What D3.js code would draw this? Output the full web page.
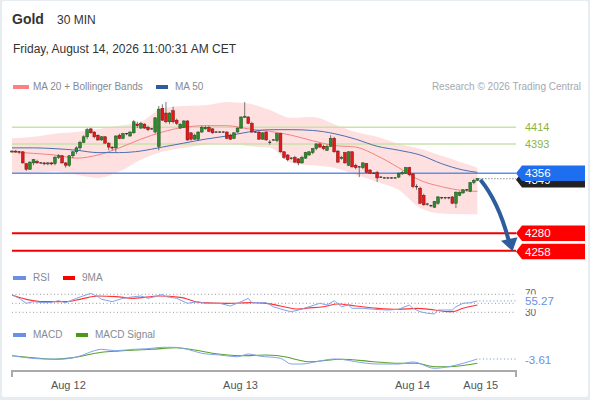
<!DOCTYPE html>
<html>
<head>
<meta charset="utf-8">
<script src="https://d3js.org/d3.v7.min.js"></script>
<style>
  body { margin: 0; background: #e6ecf0; }
  svg { display: block; font-family: "Liberation Sans", Arial, sans-serif; }
</style>
</head>
<body>
<svg id="chart" width="590" height="400"></svg>
<script>
// Gold, 30 min candles, oldest first
var open  = [4383,4384,4383,4383,4368,4361,4369,4371,4369,4369,4368,4369,4368,4376,4378,4369,4366,4378,4383,4388,
             4395,4402,4412,4408,4404,4398,4402,4394,4389,4388,4404,4400,4406,4403,4407,4418,4413,4418,4414,4412,
             4408,4390,4438,4432,4421,4435,4423,4413,4414,4422,4407,4399,4399,4408,4412,4414,4412,4408,4408,4408,
             4408,4404,4400,4408,4413,4427,4427,4419,4408,4408,4399,4408,4395,4398,4397,4406,4383,4379,4375,4376,
             4374,4369,4375,4379,4382,4387,4393,4390,4385,4390,4400,4384,4375,4382,4366,4383,4366,4364,4363,4368,
             4360,4356,4357,4351,4350,4350,4350,4350,4351,4355,4356,4363,4355,4339,4337,4328,4317,4315,4313,4318,
             4325,4325,4325,4326,4318,4328,4331,4335,4333,4344,4347];
var high  = [4385,4385,4384,4384,4369,4371,4374,4373,4370,4370,4370,4370,4378,4380,4379,4370,4379,4384,4390,4397,
             4404,4413,4413,4409,4405,4403,4403,4395,4390,4404,4406,4407,4407,4409,4423,4421,4421,4419,4416,4413,
             4427,4441,4443,4446,4433,4440,4425,4419,4423,4423,4408,4406,4409,4416,4416,4416,4413,4409,4409,4409,
             4409,4406,4408,4414,4428,4446,4428,4421,4409,4409,4408,4409,4398,4399,4407,4407,4384,4380,4376,4378,
             4375,4378,4383,4384,4388,4394,4394,4392,4392,4404,4402,4385,4378,4383,4384,4384,4368,4365,4370,4369,
             4361,4357,4359,4352,4351,4351,4351,4351,4357,4359,4364,4364,4356,4342,4339,4330,4318,4316,4321,4327,
             4326,4326,4326,4327,4333,4333,4336,4336,4345,4349,4350];
var low   = [4382,4382,4380,4368,4359,4360,4366,4368,4368,4366,4366,4366,4366,4374,4368,4363,4364,4375,4380,4385,
             4394,4399,4406,4400,4397,4397,4393,4385,4385,4383,4399,4399,4404,4402,4406,4413,4412,4412,4409,4411,
             4406,4385,4422,4419,4418,4419,4417,4412,4413,4397,4397,4398,4397,4407,4411,4408,4406,4407,4407,4407,
             4399,4398,4399,4407,4412,4426,4418,4407,4407,4398,4398,4397,4392,4397,4395,4382,4374,4371,4373,4369,
             4366,4368,4374,4378,4380,4385,4388,4385,4384,4389,4382,4369,4373,4368,4365,4363,4361,4351,4361,4356,
             4355,4355,4345,4350,4349,4349,4349,4349,4350,4354,4355,4352,4337,4335,4317,4315,4315,4313,4312,4316,
             4323,4323,4323,4317,4312,4327,4330,4333,4332,4342,4346];
var close = [4384,4383,4383,4369,4361,4370,4373,4369,4369,4368,4369,4368,4376,4378,4369,4366,4378,4383,4388,4395,
             4402,4411,4407,4402,4398,4402,4394,4389,4388,4403,4400,4406,4406,4408,4421,4416,4419,4413,4411,4412,
             4426,4437,4423,4421,4432,4421,4419,4418,4422,4398,4399,4404,4408,4414,4414,4409,4407,4408,4408,4408,
             4400,4399,4407,4413,4427,4428,4419,4408,4408,4399,4407,4398,4395,4398,4406,4383,4376,4373,4375,4370,
             4369,4376,4382,4383,4387,4393,4389,4387,4390,4400,4383,4370,4376,4369,4383,4364,4363,4364,4369,4357,
             4356,4356,4350,4351,4350,4350,4350,4350,4356,4357,4363,4354,4339,4339,4318,4316,4317,4315,4320,4326,
             4325,4325,4325,4318,4332,4332,4335,4335,4344,4347,4349];

// MA 20, Bollinger bands and MA 50, sampled at these candle indices
var bandIdx = [0,6,12,18,24,30,36,42,48,54,60,66,72,78,84,90,96,102,108,114,120,126,130];
var ma20    = [4383,4381,4379,4375,4379,4388,4399,4408,4414,4416,4416,4412,4409,4404,4397,4391,4389,4378,4363,4347,4339,4334,4333];
var bbUpper = [4400,4402,4406,4408,4412,4416,4421,4438,4441,4442,4446,4444,4436,4426,4427,4418,4408,4402,4393,4387,4378,4369,4363];
var bbLower = [4356,4356,4358,4354,4350,4358,4373,4383,4388,4392,4394,4390,4388,4369,4366,4363,4354,4345,4335,4312,4305,4304,4304];
var ma50    = [4388,4388,4387,4385,4382,4382,4384,4389,4394,4399,4403,4408,4411,4411,4410,4406,4399,4390,4385,4379,4368,4360,4357];

var resistances = [4414, 4393];
var pivot = 4356;
var supports = [4280, 4258];

// RSI and its 9 period average
var rsiIdx = [0,2,4,6,9,11,13,15,18,22,24,25,28,31,34,36,38,40,42,43,46,49,52,54,58,61,64,66,67,71,73,76,78,80,83,86,88,90,92,94,95,98,101,105,108,111,112,114,116,118,119,121,123,124,126,128,130];
var rsi    = [68.4,61.1,50,53.6,51.3,52.2,55.8,51.3,61.1,72.2,64.7,58.9,53.6,61.1,64.7,66.2,61.1,64.7,70,64.7,61.1,50,53.6,50,50,44,53.6,61.1,51.3,51.3,42.4,35.1,31.3,35.1,42.4,50,46.2,55.8,42.4,46.2,38.9,38.9,36.7,35.1,36.7,46.2,38.9,31.3,27.8,26.2,35.1,35.1,35.1,42.4,50,51.3,55.27];
var rsiMaIdx = [0,4,9,15,19,24,29,34,41,47,53,60,67,71,75,80,82,87,91,96,102,108,113,118,122,123,126,130];
var rsiMa    = [68.4,58.9,53.6,53.6,58.9,66.2,64.7,61.1,66.2,63.3,51.3,50,51.3,50,44,37,38.9,42.4,48.4,44,38.9,36.7,38.9,35.1,31.3,31.3,38.9,46.2];
var rsiLevels = [70, 50, 30];

// MACD and signal
var macdIdx = [0,4,9,14,19,23,25,29,34,38,42,45,49,53,58,63,66,69,75,78,81,85,90,92,96,102,108,112,118,122,126,130];
var macd    = [-0.3,-2.3,-3.6,-3.6,-0.6,4.7,6.1,4.7,6.1,6.7,8.1,8.1,6.1,2.1,0.4,-1.3,1.4,-0.6,-2.9,-8.6,-8.6,-6.3,-3.6,-3.9,-6.3,-8.6,-8.6,-6.6,-12.9,-11.3,-7.9,-3.61];
var signalIdx = [0,6,12,17,25,30,39,46,51,56,64,71,77,80,83,92,101,108,113,118,122,130];
var signal    = [-0.3,-2.3,-3.9,-2.3,3.1,4.4,6.1,7.7,5.4,2.1,-0.3,0.4,-1.9,-4.6,-6.3,-3.9,-6.3,-7.9,-7.9,-11.3,-11.3,-7.9];

// x axis day labels, at candle positions
var dayIdx = [15.6, 63.7, 111.7, 130.8];
var dayLabels = ["Aug 12", "Aug 13", "Aug 14", "Aug 15"];

var svg = d3.select("#chart");
var plotLeft = 12, plotRight = 516, tagX = 516;

svg.append("rect").attr("x", 2).attr("y", 1).attr("width", 586).attr("height", 396)
  .attr("rx", 2).attr("fill", "#fff");

var x = d3.scaleLinear().domain([0, 130]).range([12, 477.4]);
var y = d3.scaleLinear().domain([4258, 4414]).range([250.7, 127.3]);
var yRsi = d3.scaleLinear().domain([30, 70]).range([312.3, 294.3]);
var yMacd = d3.scaleLinear().domain([-14, 10]).range([369.4, 345.4]);
var fmt2 = function(v) { return v.toFixed(2); };

// header
svg.append("text").attr("x", 12).attr("y", 24).attr("font-size", 14).attr("font-weight", "bold")
  .attr("fill", "#333").text("Gold");
svg.append("text").attr("x", 57).attr("y", 23.5).attr("font-size", 12).attr("fill", "#333").text("30 MIN");
svg.append("text").attr("x", 13).attr("y", 52.5).attr("font-size", 12).attr("fill", "#333")
  .text("Friday, August 14, 2026 11:00:31 AM CET");

function legend(items, ly) {
  items.forEach(function(it) {
    svg.append("rect").attr("x", it.x).attr("y", ly - 4.5).attr("width", it.w).attr("height", 4).attr("fill", it.color);
    svg.append("text").attr("x", it.tx).attr("y", ly).attr("font-size", 10).attr("fill", "#858a94").text(it.label);
  });
}
legend([{x: 13, w: 16, color: "#ff8080", tx: 33, label: "MA 20 + Bollinger Bands"},
        {x: 156, w: 12, color: "#2f5b9f", tx: 175, label: "MA 50"}], 89.5);
svg.append("text").attr("x", 581).attr("y", 89.5).attr("font-size", 10).attr("text-anchor", "end")
  .attr("fill", "#a5a9b0").text("Research \u00a9 2026 Trading Central");

// bollinger band + moving averages
var bandPts = bandIdx.map(function(i, k) { return {i: i, up: bbUpper[k], lo: bbLower[k], m20: ma20[k], m50: ma50[k]}; });
svg.append("path").datum(bandPts).attr("fill", "#ffe0e0")
  .attr("d", d3.area().curve(d3.curveMonotoneX).x(function(d) { return x(d.i); })
    .y0(function(d) { return y(d.lo); }).y1(function(d) { return y(d.up); }));

// level lines
resistances.forEach(function(v) {
  svg.append("line").attr("x1", plotLeft).attr("x2", plotRight).attr("y1", y(v)).attr("y2", y(v))
    .attr("stroke", "#c8e2ab").attr("stroke-width", 1.5);
  svg.append("text").attr("x", 525).attr("y", y(v) + 4).attr("font-size", 11).attr("fill", "#8db43a").text(v);
});
svg.append("line").attr("x1", plotLeft).attr("x2", plotRight).attr("y1", y(pivot)).attr("y2", y(pivot))
  .attr("stroke", "#5e90ea").attr("stroke-width", 1.5);
supports.forEach(function(v) {
  svg.append("line").attr("x1", plotLeft).attr("x2", plotRight).attr("y1", y(v)).attr("y2", y(v))
    .attr("stroke", "#f00000").attr("stroke-width", 2);
});

svg.append("path").datum(bandPts).attr("fill", "none").attr("stroke", "#f48282").attr("stroke-width", 1)
  .attr("d", d3.line().curve(d3.curveMonotoneX).x(function(d) { return x(d.i); }).y(function(d) { return y(d.m20); }));
svg.append("path").datum(bandPts).attr("fill", "none").attr("stroke", "#4a70b0").attr("stroke-width", 1)
  .attr("d", d3.line().curve(d3.curveMonotoneX).x(function(d) { return x(d.i); }).y(function(d) { return y(d.m50); }));

// candles
var bars = close.map(function(c, i) { return {i: i, o: open[i], h: high[i], l: low[i], c: c}; });
var cg = svg.append("g");
cg.selectAll("line").data(bars).join("line")
  .attr("x1", function(d) { return x(d.i); }).attr("x2", function(d) { return x(d.i); })
  .attr("y1", function(d) { return y(d.h); }).attr("y2", function(d) { return y(d.l); })
  .attr("stroke", "#555").attr("stroke-width", 0.8);
cg.selectAll("rect").data(bars).join("rect")
  .attr("x", function(d) { return x(d.i) - 1.4; })
  .attr("width", 2.8)
  .attr("y", function(d) { return d.o === d.c ? y(d.c) - 0.6 : y(Math.max(d.o, d.c)); })
  .attr("height", function(d) { return d.o === d.c ? 1.2 : Math.max(1, Math.abs(y(d.o) - y(d.c))); })
  .attr("fill", function(d) { return d.o === d.c ? "#333" : (d.c > d.o ? "#2f8a2f" : "#e21a1a"); })
  .attr("stroke", function(d) { return d.o === d.c ? "none" : (d.c > d.o ? "#1b4f1b" : "#7d1010"); })
  .attr("stroke-width", 0.5);

// last price dotted line + tags
var last = close[close.length - 1];
svg.append("line").attr("x1", x(130) + 2).attr("x2", tagX).attr("y1", y(last)).attr("y2", y(last))
  .attr("stroke", "#555").attr("stroke-dasharray", "1,2");

function tag(v, fill, cy) {
  svg.append("path").attr("fill", fill)
    .attr("d", "M" + tagX + "," + cy + " L" + (tagX + 6) + "," + (cy - 7.7) + " L585," + (cy - 7.7) +
      " L585," + (cy + 7.7) + " L" + (tagX + 6) + "," + (cy + 7.7) + " Z");
  svg.append("text").attr("x", 525).attr("y", cy + 4.2).attr("font-size", 11.5).attr("fill", "#fff").text(v);
}
tag(last, "#222", y(last) + 1);
tag(pivot, "#1e6ff0", y(pivot));
tag(supports[0], "#ff0000", y(supports[0]));
tag(supports[1], "#ff0000", y(supports[1]) + 0.8);

// forecast arrow
var sx = x(130) + 3, sy = y(last) + 1, ex = 512.5, ey = y(supports[1]);
svg.append("path").attr("fill", "none").attr("stroke", "#2d5d9c").attr("stroke-width", 4)
  .attr("d", "M" + sx + "," + sy + " Q" + (sx + 18) + "," + (sy + 22) + " " + (ex - 4) + "," + (ey - 11));
svg.append("path").attr("fill", "#2d5d9c")
  .attr("d", "M" + (ex - 11.5) + "," + (ey - 10) + " L" + (ex + 5) + "," + (ey - 13.5) + " L" + ex + "," + (ey + 0.5) + " Z");

// RSI panel
legend([{x: 13, w: 13, color: "#6a8fe6", tx: 33, label: "RSI"},
        {x: 63, w: 12, color: "#ff0000", tx: 82, label: "9MA"}], 280.5);
rsiLevels.forEach(function(v) {
  svg.append("line").attr("x1", plotLeft).attr("x2", plotRight).attr("y1", yRsi(v)).attr("y2", yRsi(v))
    .attr("stroke", "#999").attr("stroke-dasharray", "1,2.5");
});
svg.append("path").datum(rsiMaIdx.map(function(i, k) { return [x(i), yRsi(rsiMa[k])]; }))
  .attr("fill", "none").attr("stroke", "#ff3434").attr("stroke-width", 1.2)
  .attr("d", d3.line().curve(d3.curveMonotoneX));
svg.append("path").datum(rsiIdx.map(function(i, k) { return [x(i), yRsi(rsi[k])]; }))
  .attr("fill", "none").attr("stroke", "#80a3ec").attr("stroke-width", 1)
  .attr("d", d3.line());
var rsiLast = rsi[rsi.length - 1];
svg.append("line").attr("x1", x(130) + 2).attr("x2", tagX).attr("y1", yRsi(rsiLast)).attr("y2", yRsi(rsiLast))
  .attr("stroke", "#6a8fe6").attr("stroke-dasharray", "1,2.5");
svg.append("text").attr("x", 525).attr("y", yRsi(70) + 3).attr("font-size", 10).attr("fill", "#666").text("70");
svg.append("text").attr("x", 525).attr("y", yRsi(30) + 3.5).attr("font-size", 10).attr("fill", "#666").text("30");
svg.append("rect").attr("x", 521).attr("y", yRsi(rsiLast) - 6.5).attr("width", 50).attr("height", 14.5).attr("fill", "#fff");
svg.append("text").attr("x", 525).attr("y", yRsi(rsiLast) + 4.5).attr("font-size", 11.5).attr("fill", "#6a8fe6")
  .text(fmt2(rsiLast));

// MACD panel
legend([{x: 13, w: 13, color: "#6a8fe6", tx: 33, label: "MACD"},
        {x: 76, w: 12, color: "#4a9a1a", tx: 95, label: "MACD Signal"}], 337.5);
svg.append("path").datum(signalIdx.map(function(i, k) { return [x(i), yMacd(signal[k])]; }))
  .attr("fill", "none").attr("stroke", "#5aa02c").attr("stroke-width", 1.1)
  .attr("d", d3.line().curve(d3.curveMonotoneX));
svg.append("path").datum(macdIdx.map(function(i, k) { return [x(i), yMacd(macd[k])]; }))
  .attr("fill", "none").attr("stroke", "#80a3ec").attr("stroke-width", 1)
  .attr("d", d3.line().curve(d3.curveMonotoneX));
var macdLast = macd[macd.length - 1];
svg.append("line").attr("x1", x(130) + 2).attr("x2", tagX).attr("y1", yMacd(macdLast)).attr("y2", yMacd(macdLast))
  .attr("stroke", "#6a8fe6").attr("stroke-dasharray", "1,2.5");
svg.append("text").attr("x", 525).attr("y", yMacd(macdLast) + 4.5).attr("font-size", 11.5).attr("fill", "#6a8fe6")
  .text(fmt2(macdLast));

// x axis
var xAxis = d3.axisBottom(d3.scaleLinear().domain([x.invert(plotLeft), x.invert(plotRight)]).range([plotLeft, plotRight]))
  .tickValues(dayIdx).tickFormat(function(d, k) { return dayLabels[k]; }).tickSize(0).tickPadding(10);
var ax = svg.append("g").attr("transform", "translate(0,371)").call(xAxis);
ax.select(".domain").attr("stroke", "#aaa").attr("stroke-width", 2)
  .attr("d", "M" + plotLeft + ",6V0H" + plotRight + "V6");
ax.selectAll("text").attr("font-size", 11).attr("fill", "#555").attr("font-family", "Liberation Sans, Arial, sans-serif");
</script>
</body>
</html>
